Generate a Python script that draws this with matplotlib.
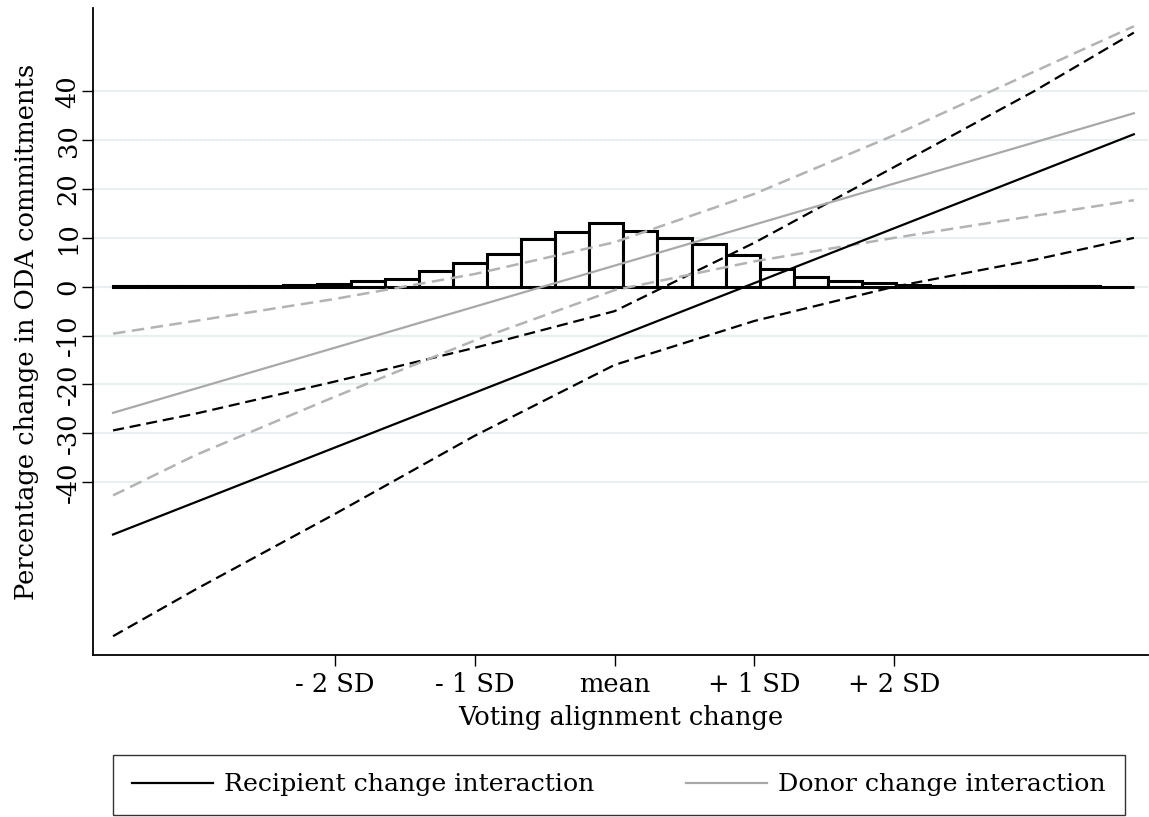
import numpy as np
import matplotlib
matplotlib.use("Agg")
from matplotlib import pyplot as plt

plt.rcParams['font.family'] = ['DejaVu Serif']

# voting alignment change, in SD units from the mean
sd_points = [-3.586, -3.0, -2.0, -1.0, 0.0, 1.0, 2.0, 3.0, 3.714]
sd_ends = [-3.586, 3.714]

# predicted percentage change (straight lines) and 95% bounds
recipient_fit = [-50.7, 31.2]
recipient_hi = [-29.4, -26.0, -19.4, -12.5, -5.0, 9.0, 24.5, 40.0, 52.0]
recipient_lo = [-71.5, -62.0, -46.5, -30.5, -16.0, -7.0, 0.0, 5.5, 10.0]

donor_fit = [-25.8, 35.5]
donor_hi = [-9.6, -7.0, -2.5, 2.6, 9.1, 19.0, 31.0, 44.0, 53.3]
donor_lo = [-42.7, -34.5, -22.5, -11.0, -0.7, 5.2, 10.0, 14.5, 17.7]

# distribution of voting alignment change (30 bins)
hist_heights = [0.05, 0.05, 0.05, 0.1, 0.15, 0.3, 0.6, 1.2, 1.6, 3.3,
                4.9, 6.7, 9.8, 11.2, 13.0, 11.5, 10.0, 8.7, 6.4, 3.6,
                1.9, 1.2, 0.7, 0.4, 0.2, 0.15, 0.1, 0.05, 0.05, 0.03]

xtick_pos = [-2, -1, 0, 1, 2]
xtick_labels = ['- 2 SD', '- 1 SD', 'mean', '+ 1 SD', '+ 2 SD']
ytick_pos = [-40, -30, -20, -10, 0, 10, 20, 30, 40]

fig = plt.figure(figsize=(11.49, 8.17), dpi=100)
ax = fig.add_axes([0.081, 0.198, 0.918, 0.792])

edges = np.linspace(sd_ends[0], sd_ends[1], len(hist_heights) + 1)
ax.bar(edges[:-1], hist_heights, width=np.diff(edges), align='edge',
       facecolor='white', edgecolor='black', linewidth=2.2, zorder=2)

gray = '#a9a9a9'
dgray = '#b3b3b3'
ax.plot(sd_points, recipient_hi, color='black', lw=1.6, dashes=(5, 2.6), zorder=3)
ax.plot(sd_points, recipient_lo, color='black', lw=1.6, dashes=(5, 2.6), zorder=3)
ax.plot(sd_points, donor_hi, color=dgray, lw=1.8, dashes=(5, 2.6), zorder=3)
ax.plot(sd_points, donor_lo, color=dgray, lw=1.8, dashes=(5, 2.6), zorder=3)
ax.plot(sd_ends, recipient_fit, color='black', lw=1.6, zorder=4,
        label='Recipient change interaction')
ax.plot(sd_ends, donor_fit, color=gray, lw=1.6, zorder=4,
        label='Donor change interaction')

ax.set_xlim(-3.729, 3.814)
ax.set_ylim(-75.4, 57.0)
ax.set_xticks(xtick_pos)
ax.set_xticklabels(xtick_labels, fontsize=18.5)
ax.set_yticks(ytick_pos)
ax.set_yticklabels([str(v) for v in ytick_pos], fontsize=18.5,
                   rotation=90, va='center')
ax.tick_params(axis='both', length=8, width=1.0)
ax.tick_params(axis='y', pad=1)
ax.tick_params(axis='x', pad=4)
ax.yaxis.grid(True, color='#e7eff1', lw=1.5, zorder=0)
ax.set_axisbelow(True)

for side in ['top', 'right']:
    ax.spines[side].set_visible(False)
ax.spines['left'].set_linewidth(1.3)
ax.spines['bottom'].set_linewidth(1.3)

ax.set_xlabel('Voting alignment change', fontsize=18.5, labelpad=6)
ax.set_ylabel('Percentage change in ODA commitments', fontsize=18.5, labelpad=12)

leg = ax.legend(loc='center', ncol=2, fontsize=18.2,
                frameon=True, fancybox=False, handlelength=3.2,
                handletextpad=0.45, columnspacing=3.6, borderpad=0.75,
                borderaxespad=0)
leg.set_bbox_to_anchor((619 / 1149, 1 - 785 / 817), transform=fig.transFigure)
leg.get_frame().set_edgecolor('black')
leg.get_frame().set_linewidth(1.0)

fig.savefig('out.png', dpi=100)
